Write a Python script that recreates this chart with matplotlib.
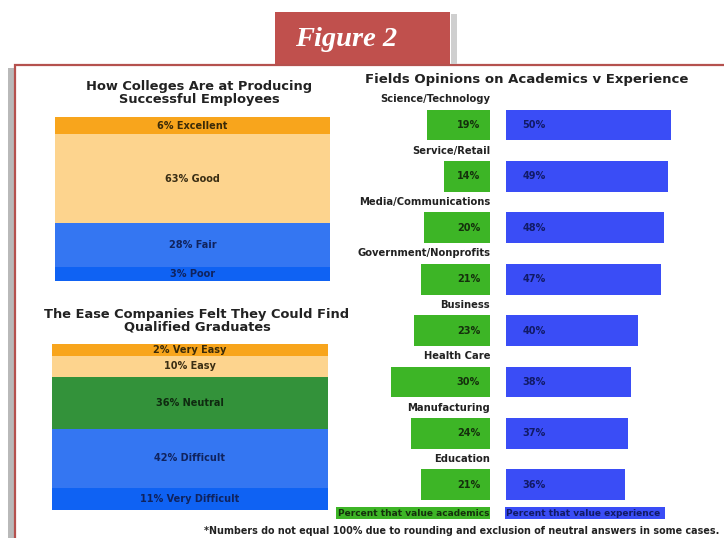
import matplotlib.pyplot as plt
from matplotlib.patches import Rectangle

# How colleges are at producing successful employees
quality_labels = ['Excellent', 'Good', 'Fair', 'Poor']
quality_values = [6, 63, 28, 3]

# Ease companies felt they could find qualified graduates
ease_labels = ['Very Easy', 'Easy', 'Neutral', 'Difficult', 'Very Difficult']
ease_values = [2, 10, 36, 42, 11]

# Fields opinions on academics v experience
fields = ['Science/Technology', 'Service/Retail', 'Media/Communications',
          'Government/Nonprofits', 'Business', 'Health Care',
          'Manufacturing', 'Education']
academics = [19, 14, 20, 21, 23, 30, 24, 21]
experience = [50, 49, 48, 47, 40, 38, 37, 36]

W, H = 724, 538


def box(x0, y0, x1, y1):
    # pixel box (top-left origin) -> figure fraction
    return [x0 / W, 1 - y1 / H, (x1 - x0) / W, (y1 - y0) / H]


def stacked(ax, labels, values, colors, textcolors, pad=8):
    # small segments get a bit of extra height so the label fits
    bottom = 0
    for lab, v, c, tc in zip(labels, values, colors, textcolors):
        h = v + pad
        ax.bar(0, h, bottom=bottom, width=1, color=c, edgecolor='none')
        ax.text(0, bottom + h / 2, f'{v}% {lab}', ha='center', va='center',
                fontsize=7, fontweight='bold', color=tc)
        bottom += h
    ax.set_xlim(-0.5, 0.5)
    ax.set_ylim(bottom, 0)
    ax.axis('off')


fig = plt.figure(figsize=(W / 100, H / 100), dpi=100)
fig.patch.set_facecolor('white')

# panel frame with shadow (behind the axes)
fig.add_artist(Rectangle((8 / W, 0), 8 / W, 1 - 68 / H, transform=fig.transFigure,
                         facecolor='#b9b9b9', edgecolor='none', zorder=-10))
fig.add_artist(Rectangle((15 / W, -0.01), 1, 1.01 - 65 / H, transform=fig.transFigure,
                         facecolor='white', edgecolor='#b5514e', linewidth=1.6, zorder=-9))
# title tab
fig.add_artist(Rectangle((451 / W, 1 - 64 / H), 6 / W, 50 / H, transform=fig.transFigure,
                         facecolor='#cfcfcf', edgecolor='none', zorder=-8))
fig.add_artist(Rectangle((275 / W, 1 - 64 / H), 175 / W, 52 / H, transform=fig.transFigure,
                         facecolor='#c0504d', edgecolor='none', zorder=-7))
fig.text(346 / W, 1 - 39 / H, 'Figure 2', ha='center', va='center', color='white',
         fontsize=20.5, fontweight='bold', fontstyle='italic', family='Liberation Serif')

# chart 1
fig.text(199 / W, 1 - 93 / H, 'How Colleges Are at Producing\nSuccessful Employees',
         ha='center', va='center', fontsize=9.4, fontweight='bold', color='#222222',
         linespacing=1.0)
ax1 = fig.add_axes(box(55, 117, 330, 281))
stacked(ax1, quality_labels, quality_values,
        ['#f8a51c', '#fdd48e', '#3476f2', '#0f62f3'],
        ['#3a2a08', '#3a2e14', '#10235e', '#10235e'])

# chart 2
fig.text(197 / W, 1 - 321 / H, 'The Ease Companies Felt They Could Find\nQualified Graduates',
         ha='center', va='center', fontsize=9.4, fontweight='bold', color='#222222',
         linespacing=1.0)
ax2 = fig.add_axes(box(52, 344, 328, 510))
stacked(ax2, ease_labels, ease_values,
        ['#f8a51c', '#fdd48e', '#33923a', '#3476f2', '#0f62f3'],
        ['#3a2a08', '#3a2e14', '#0f2a10', '#10235e', '#10235e'])

# chart 3
fig.text(527 / W, 1 - 80 / H, 'Fields Opinions on Academics v Experience',
         ha='center', va='center', fontsize=9.5, fontweight='bold', color='#222222')

scale = 3.3  # px per percent
y_top, y_bot = 90, 505
first, step = 125, 51.4
ylim = ((y_bot - first) / step, -(first - y_top) / step)
pos = list(range(len(fields)))

axg = fig.add_axes(box(350, y_top, 490, y_bot))
axg.barh(pos, academics, height=0.6, color='#3db526', edgecolor='none')
axg.set_xlim(140 / scale, 0)
axg.set_ylim(*ylim)
axg.axis('off')
for i, (f, v) in enumerate(zip(fields, academics)):
    axg.text(0, i - 0.5, f, ha='right', va='center', fontsize=7.2,
             fontweight='bold', color='#222222')
    axg.text(3, i, f'{v}%', ha='right', va='center', fontsize=7,
             fontweight='bold', color='#14300c')

axb = fig.add_axes(box(506, y_top, 724, y_bot))
axb.barh(pos, experience, height=0.6, color='#3a4df6', edgecolor='none')
axb.set_xlim(0, 218 / scale)
axb.set_ylim(*ylim)
axb.axis('off')
for i, v in enumerate(experience):
    axb.text(5, i, f'{v}%', ha='left', va='center', fontsize=7,
             fontweight='bold', color='#111a66')

# legend
fig.text(489 / W, 1 - 513 / H, 'Percent that value academics', ha='right', va='center',
         fontsize=6.5, fontweight='bold', color='#14300c',
         bbox=dict(facecolor='#3db526', edgecolor='none', pad=1.0))
fig.text(506 / W, 1 - 513 / H, 'Percent that value experience ', ha='left', va='center',
         fontsize=6.5, fontweight='bold', color='#111a66',
         bbox=dict(facecolor='#3a4df6', edgecolor='none', pad=1.0))

fig.text(462 / W, 1 - 531 / H,
         '*Numbers do not equal 100% due to rounding and exclusion of neutral answers in some cases.',
         ha='center', va='center', fontsize=6.9, fontweight='bold', color='#222222')

fig.savefig('out.png', dpi=100)
